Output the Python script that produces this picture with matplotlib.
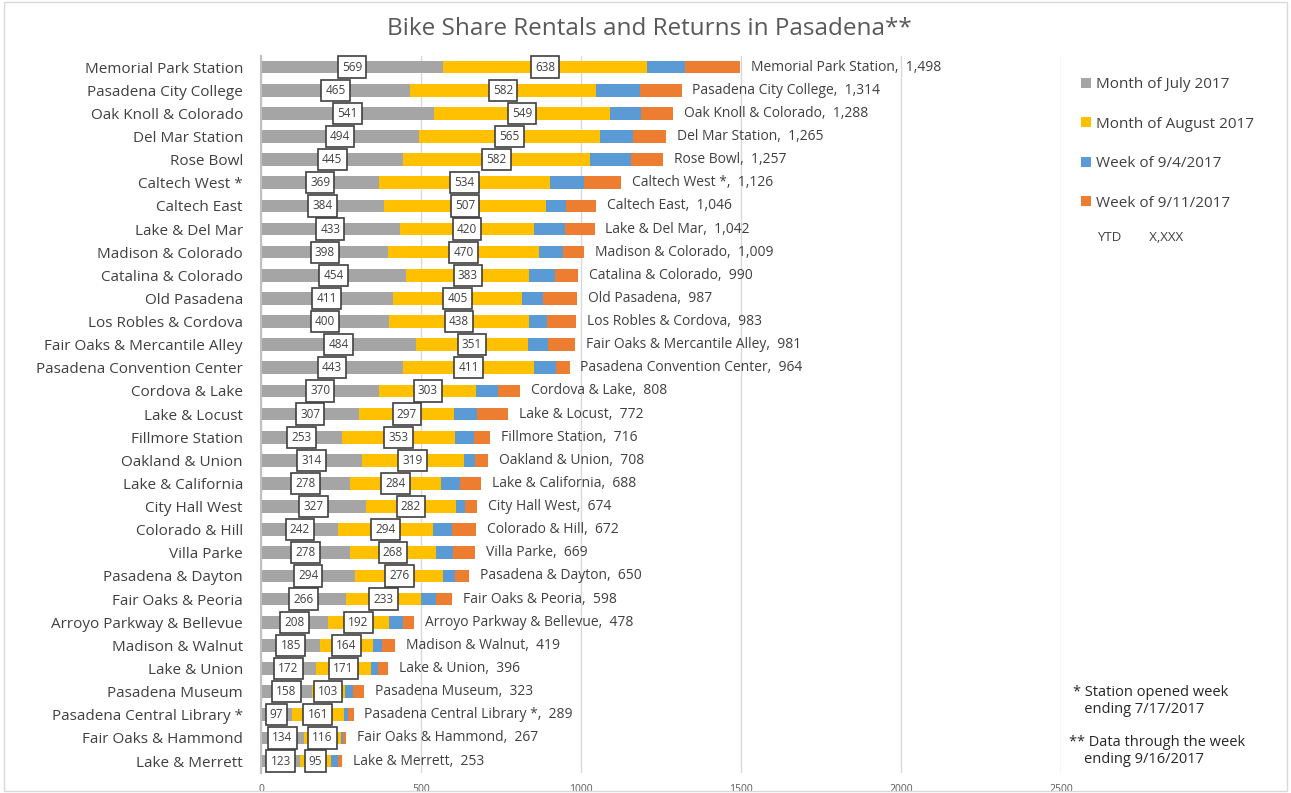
import matplotlib
matplotlib.use('Agg')
import matplotlib.pyplot as plt
from matplotlib.patches import Patch, Rectangle
import numpy as np

plt.rcParams['font.family'] = ['Open Sans', 'DejaVu Sans']

# ── Data ──
stations = [
    'Memorial Park Station', 'Pasadena City College', 'Oak Knoll & Colorado',
    'Del Mar Station', 'Rose Bowl', 'Caltech West *', 'Caltech East',
    'Lake & Del Mar', 'Madison & Colorado', 'Catalina & Colorado',
    'Old Pasadena', 'Los Robles & Cordova', 'Fair Oaks & Mercantile Alley',
    'Pasadena Convention Center', 'Cordova & Lake', 'Lake & Locust',
    'Fillmore Station', 'Oakland & Union', 'Lake & California',
    'City Hall West', 'Colorado & Hill', 'Villa Parke', 'Pasadena & Dayton',
    'Fair Oaks & Peoria', 'Arroyo Parkway & Bellevue', 'Madison & Walnut',
    'Lake & Union', 'Pasadena Museum', 'Pasadena Central Library *',
    'Fair Oaks & Hammond', 'Lake & Merrett',
]
july = [569, 465, 541, 494, 445, 369, 384, 433, 398, 454, 411, 400, 484, 443,
        370, 307, 253, 314, 278, 327, 242, 278, 294, 266, 208, 185, 172, 158,
        97, 134, 123]
august = [638, 582, 549, 565, 582, 534, 507, 420, 470, 383, 405, 438, 351,
          411, 303, 297, 353, 319, 284, 282, 294, 268, 276, 233, 192, 164, 171,
          103, 161, 116, 95]
week_0904 = [119, 137, 98, 104, 128, 107, 62, 98, 75, 80, 64, 56, 62, 68, 66,
             72, 59, 36, 61, 29, 61, 54, 35, 49, 42, 28, 21, 26, 14, 6, 24]
week_0911 = [172, 130, 100, 102, 102, 116, 93, 91, 66, 73, 107, 89, 84, 42,
             69, 96, 51, 39, 65, 36, 75, 69, 45, 50, 36, 42, 32, 36, 17, 11, 11]

series_names = ['Month of July 2017', 'Month of August 2017',
                'Week of 9/4/2017', 'Week of 9/11/2017']

# ── Colours ──
GRAY = '#A5A5A5'
GOLD = '#FFC000'
BLUE = '#5B9BD5'
ORANGE = '#ED7D31'
TEXT = '#404040'
colors = [GRAY, GOLD, BLUE, ORANGE]

july_a = np.array(july)
aug_a = np.array(august)
w1_a = np.array(week_0904)
w2_a = np.array(week_0911)
totals = july_a + aug_a + w1_a + w2_a
y = np.arange(len(stations))

fig = plt.figure(figsize=(12.91, 7.93), dpi=100)
ax = fig.add_axes([0.2022, 0.0257, 0.6198, 0.9043])

lefts = np.zeros(len(stations))
for vals, col in zip([july_a, aug_a, w1_a, w2_a], colors):
    ax.barh(y, vals, left=lefts, color=col, height=0.55, zorder=2)
    lefts = lefts + vals

# boxed value labels for July and August
box = dict(boxstyle='square,pad=0.35', facecolor='white',
           edgecolor='#404040', linewidth=1.2)
for i in range(len(stations)):
    ax.text(july_a[i] / 2, y[i], f'{july_a[i]}', ha='center', va='center',
            fontsize=8.5, color=TEXT, bbox=box, zorder=4)
    ax.text(july_a[i] + aug_a[i] / 2, y[i], f'{aug_a[i]}', ha='center',
            va='center', fontsize=8.5, color=TEXT, bbox=box, zorder=4)
    ax.text(totals[i] + 34, y[i], f'{stations[i]},  {totals[i]:,}',
            ha='left', va='center', fontsize=10, color=TEXT, zorder=4)

ax.set_xlim(0, 2500)
ax.set_ylim(len(stations) - 0.5, -0.5)
ax.set_xticks(np.arange(0, 2501, 500))
ax.set_yticks(y)
ax.set_yticklabels(stations, fontsize=11, color=TEXT)
ax.tick_params(axis='x', labelsize=7.5, colors='#595959', length=0, pad=8)
ax.tick_params(axis='y', length=0, pad=13)
ax.grid(axis='x', color='#D9D9D9', linewidth=1, zorder=0)
for s in ['top', 'right', 'bottom']:
    ax.spines[s].set_visible(False)
ax.spines['left'].set_color('#BFBFBF')
ax.spines['left'].set_linewidth(1.5)

fig.text(0.503, 0.964, 'Bike Share Rentals and Returns in Pasadena**',
         ha='center', va='center', fontsize=17.5, color='#595959')

handles = [Patch(facecolor=c, edgecolor='none') for c in colors]
fig.legend(handles, series_names, loc='upper left',
           bbox_to_anchor=(0.827, 0.920), frameon=False, fontsize=11,
           labelspacing=1.6, handlelength=0.65, handleheight=0.65,
           handletextpad=0.3, labelcolor=TEXT)
fig.text(0.850, 0.700, 'YTD        X,XXX', fontsize=9.5, color=TEXT,
         va='center')

fig.text(0.831, 0.116, '* Station opened week\n   ending 7/17/2017',
         fontsize=10.5, color='#262626', va='center', linespacing=1.1)
fig.text(0.828, 0.053, '** Data through the week\n    ending 9/16/2017',
         fontsize=10.5, color='#262626', va='center', linespacing=1.1)

fig.patches.append(Rectangle((0.003, 0.003), 0.994, 0.994,
                             transform=fig.transFigure, fill=False,
                             edgecolor='#D9D9D9', linewidth=1))

plt.savefig('out.png', dpi=100, facecolor='white')
